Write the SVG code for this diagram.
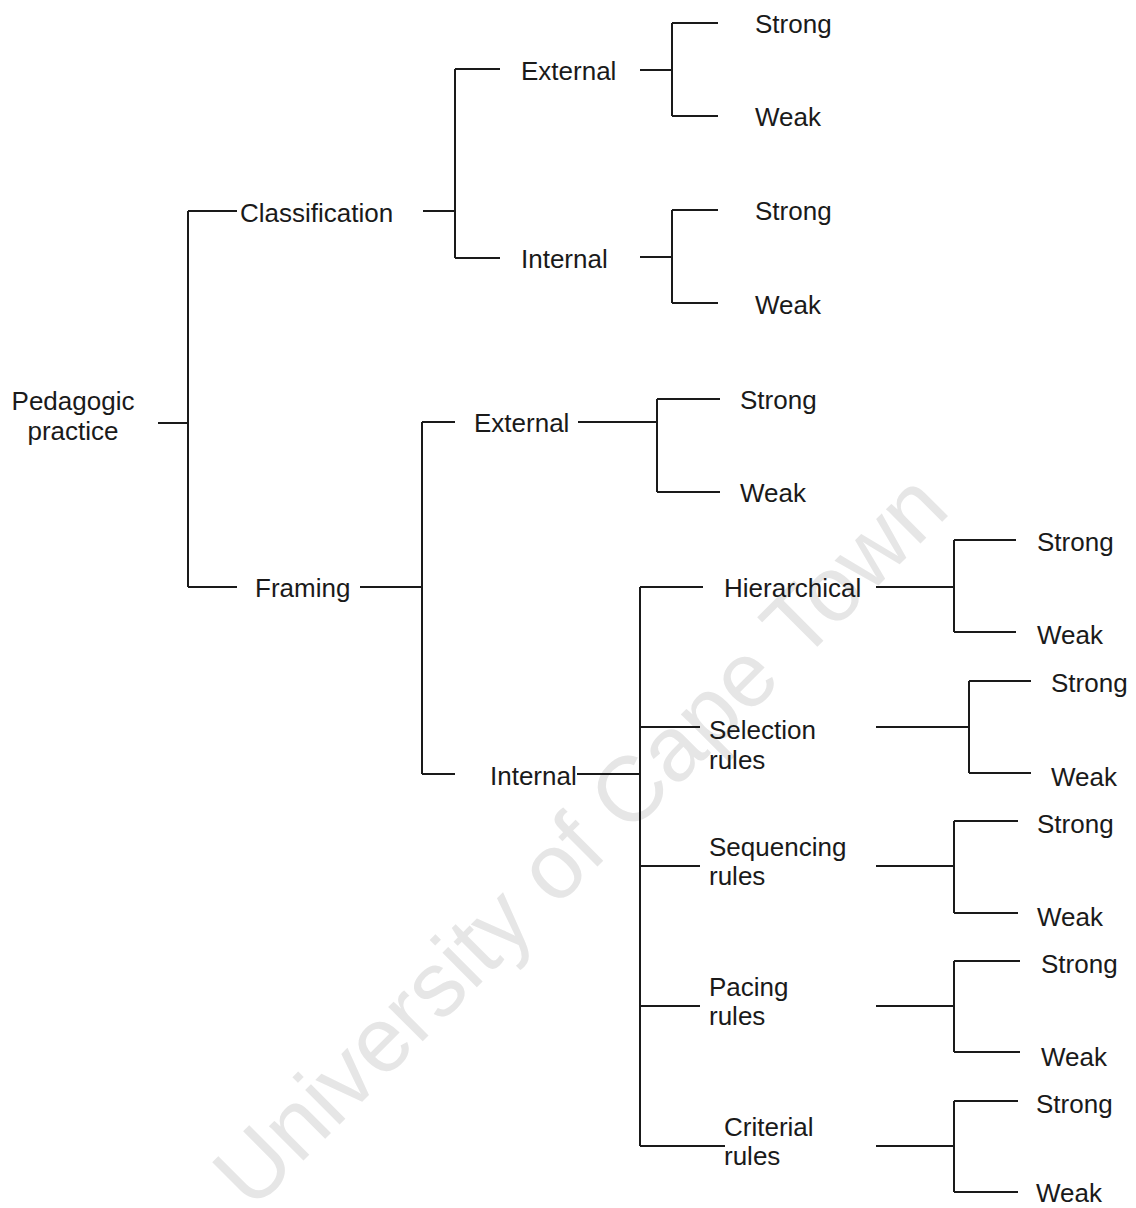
<svg xmlns="http://www.w3.org/2000/svg" width="1136" height="1208" viewBox="0 0 1136 1208">
<style>
.t{font-family:"Liberation Sans",Arial,sans-serif;font-size:26px;fill:#1a1a1a}
.c{text-anchor:middle}
.wm{font-family:"Liberation Sans",Arial,sans-serif;font-size:92px;fill:#e6e6e6}
#connectors path{fill:none;stroke:#1a1a1a;stroke-width:2}
</style>
<rect width="1136" height="1208" fill="#ffffff"/>
<text class="wm" transform="translate(252,1212) rotate(-45)">University of Cape Town</text>
<g id="connectors">
<path d="M158,423H188M188,211V587M188,211H237M188,587H237"/>
<path d="M423,211H455M455,69V258M455,69H500M455,258H500"/>
<path d="M640,70H672M672,23V116M672,23H718M672,116H718"/>
<path d="M640,257H672M672,210V303M672,210H718M672,303H718"/>
<path d="M360,587H422M422,422V774M422,422H455M422,774H455"/>
<path d="M578,422H657M657,399V492M657,399H720M657,492H720"/>
<path d="M577,774H640M640,587V1146M640,587H703M640,727H700M640,866H700M640,1006H700M640,1146H725"/>
<path d="M876,587H954M954,540V632M954,540H1016M954,632H1016"/>
<path d="M876,727H969M969,681V773M969,681H1031M969,773H1031"/>
<path d="M876,866H954M954,821V913M954,821H1018M954,913H1018"/>
<path d="M876,1006H954M954,961V1052M954,961H1020M954,1052H1020"/>
<path d="M876,1146H954M954,1101V1192M954,1101H1018M954,1192H1018"/>
</g>
<g id="n-root"><text class="t c" x="73" y="410">Pedagogic</text><text class="t c" x="73" y="440">practice</text></g>
<g id="n-classification"><text class="t" x="240" y="222">Classification</text></g>
<g id="n-c-external"><text class="t" x="521" y="80">External</text></g>
<g id="n-c-internal"><text class="t" x="521" y="268">Internal</text></g>
<g id="n-c-ext-strong"><text class="t" x="755" y="33">Strong</text></g>
<g id="n-c-ext-weak"><text class="t" x="755" y="126">Weak</text></g>
<g id="n-c-int-strong"><text class="t" x="755" y="220">Strong</text></g>
<g id="n-c-int-weak"><text class="t" x="755" y="314">Weak</text></g>
<g id="n-framing"><text class="t" x="255" y="597">Framing</text></g>
<g id="n-f-external"><text class="t" x="474" y="432">External</text></g>
<g id="n-f-ext-strong"><text class="t" x="740" y="409">Strong</text></g>
<g id="n-f-ext-weak"><text class="t" x="740" y="502">Weak</text></g>
<g id="n-f-internal"><text class="t" x="490" y="785">Internal</text></g>
<g id="n-hierarchical"><text class="t" x="724" y="597">Hierarchical</text></g>
<g id="n-hier-strong"><text class="t" x="1037" y="551">Strong</text></g>
<g id="n-hier-weak"><text class="t" x="1037" y="644">Weak</text></g>
<g id="n-selection"><text class="t" x="709" y="739">Selection</text><text class="t" x="709" y="769">rules</text></g>
<g id="n-sel-strong"><text class="t" x="1051" y="692">Strong</text></g>
<g id="n-sel-weak"><text class="t" x="1051" y="786">Weak</text></g>
<g id="n-sequencing"><text class="t" x="709" y="856">Sequencing</text><text class="t" x="709" y="885">rules</text></g>
<g id="n-seq-strong"><text class="t" x="1037" y="833">Strong</text></g>
<g id="n-seq-weak"><text class="t" x="1037" y="926">Weak</text></g>
<g id="n-pacing"><text class="t" x="709" y="996">Pacing</text><text class="t" x="709" y="1025">rules</text></g>
<g id="n-pac-strong"><text class="t" x="1041" y="973">Strong</text></g>
<g id="n-pac-weak"><text class="t" x="1041" y="1066">Weak</text></g>
<g id="n-criterial"><text class="t" x="724" y="1136">Criterial</text><text class="t" x="724" y="1165">rules</text></g>
<g id="n-crit-strong"><text class="t" x="1036" y="1113">Strong</text></g>
<g id="n-crit-weak"><text class="t" x="1036" y="1202">Weak</text></g>
</svg>
